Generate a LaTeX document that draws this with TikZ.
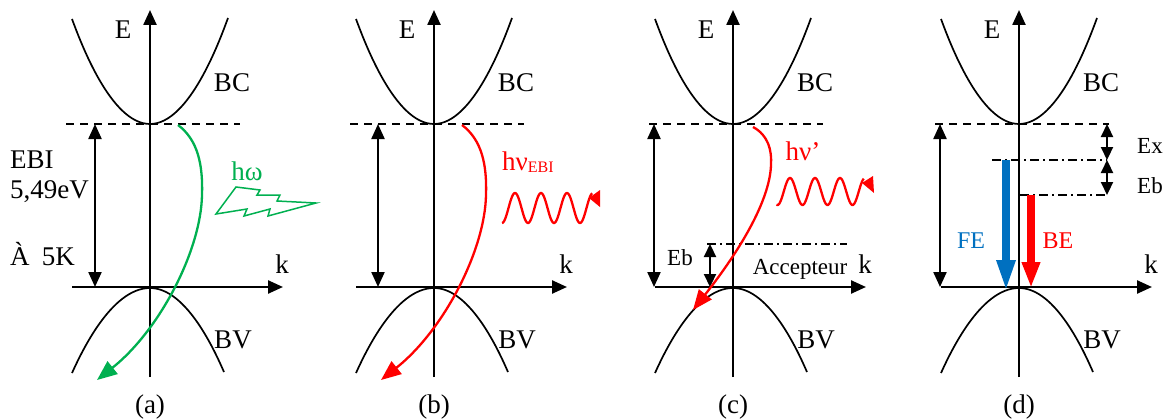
\documentclass[tikz,border=0pt]{standalone}
\usepackage{fontspec}
\setmainfont{Liberation Serif}
\usetikzlibrary{arrows.meta}
\definecolor{pgreen}{RGB}{0,176,80}
\definecolor{pblue}{RGB}{0,112,192}
\definecolor{pred}{RGB}{255,0,0}
\tikzset{
  axis/.style={line width=2.4pt, -{Triangle[length=15pt,width=13pt]}},
  band/.style={line width=1.7pt},
  gap/.style={line width=2.2pt, {Triangle[length=15pt,width=13pt]}-{Triangle[length=15pt,width=13pt]}},
  smallgap/.style={line width=2.2pt, {Triangle[length=13pt,width=12pt]}-{Triangle[length=13pt,width=12pt]}},
  level/.style={line width=1.5pt, dash pattern=on 8pt off 6pt},
  dashdot/.style={line width=1.5pt, dash pattern=on 9pt off 4pt on 2pt off 4pt},
  big/.style={font=\fontsize{27}{30}\selectfont, inner sep=0pt},
  mid/.style={font=\fontsize{24}{27}\selectfont, inner sep=0pt},
  small/.style={font=\fontsize{23}{26}\selectfont, inner sep=0pt},
  emission/.style={line width=2.3pt, -{Triangle[length=20pt,width=16pt]}},
  wave/.style={line width=2.3pt, pred},
  fat/.style={line width=8pt},
}
\newcommand\bandpanel[3]{%
\begin{scope}[shift={(#2,0)}]
  \coordinate (#1-Eb) at (0,377);
  \coordinate (#1-Et) at (0,10);
  \coordinate (#1-kl) at (-78,287);
  \coordinate (#1-kr) at (133,287);
  \coordinate (#1-cbl) at (-78,19);
  \coordinate (#1-cb0) at (0,124);
  \coordinate (#1-cbr) at (78,18);
  \coordinate (#1-vbl) at (-78,373);
  \coordinate (#1-vb0) at (0,288);
  \coordinate (#1-vbr) at (74,372);
  \coordinate (#1-dl) at (-84,124);
  \coordinate (#1-dr) at (90,124);
  \draw[band] (#1-cbl) parabola bend (#1-cb0) (#1-cbr);
  \draw[band] (#1-vbl) parabola bend (#1-vb0) (#1-vbr);
  \draw[level] (#1-dl) -- (#1-dr);
  \draw[axis] (#1-Eb) -- (#1-Et);
  \draw[axis] (#1-kl) -- (#1-kr);
  \node[big,anchor=base] (#1-E) at (-27,39) {E};
  \node[big,anchor=base] (#1-BC) at (82,92) {BC};
  \node[big,anchor=base] (#1-BV) at (83,348) {BV};
  \node[big,anchor=base] (#1-k) at (132,273) {k};
  \node[big,anchor=base] (#1-cap) at (0,413) {(#3)};
\end{scope}}
\begin{document}
\begin{tikzpicture}[x=1pt,y=-1pt]
\useasboundingbox (0,0) rectangle (1170,420);
% ---------- panel (a)
\bandpanel{a}{150}{a}
\begin{scope}[shift={(150,0)}]
  \coordinate (a-g1) at (-55,124);
  \coordinate (a-g2) at (-55,287);
  \draw[gap] (a-g1) -- (a-g2);
  \coordinate (a-s) at (28,125);
  \coordinate (a-m) at (52,195);
  \coordinate (a-e) at (-53,380);
  \draw[emission, pgreen] (a-s) .. controls (48,140) and (53,165) .. (a-m)
        .. controls (51,250) and (10,330) .. (a-e);
  \node[big, pgreen, anchor=base] (a-hw) at (97,180) {hω};
  \draw[pgreen, line width=1.5pt, line join=miter]
    (86,187) -- (110,190) -- (107,195) -- (130,195) -- (127,201) -- (166,203)
    -- (118,216) -- (120,209) -- (94,216) -- (97,209) -- (66,214) -- cycle;
\end{scope}
\node[big, anchor=base west] (a-t1) at (10,168) {EBI};
\node[big, anchor=base west] (a-t2) at (10,198) {5,49eV};
\node[big, anchor=base west] (a-t3) at (10,265) {À\hspace{0.45em}5K};
% ---------- panel (b)
\bandpanel{b}{434}{b}
\begin{scope}[shift={(434,0)}]
  \coordinate (b-g1) at (-56,124);
  \coordinate (b-g2) at (-56,287);
  \draw[gap] (b-g1) -- (b-g2);
  \coordinate (b-s) at (28,125);
  \coordinate (b-m) at (52,195);
  \coordinate (b-e) at (-53,380);
  \draw[emission, pred] (b-s) .. controls (48,140) and (53,165) .. (b-m)
        .. controls (51,250) and (10,330) .. (b-e);
  \node[big, pred, anchor=base west] (b-hv) at (68,170)
    {hν\raisebox{-2pt}{\fontsize{16}{16}\selectfont EBI}};
  \draw[wave] plot[domain=0:3.47, samples=120, smooth] ({68+26*\x},{208+15*cos(360*\x)});
  \fill[pred] (155,198) -- (166,190) -- (166,207) -- cycle;
\end{scope}
% ---------- panel (c)
\bandpanel{c}{733}{c}
\begin{scope}[shift={(733,0)}]
  \coordinate (c-g1) at (-79,124);
  \coordinate (c-g2) at (-79,287);
  \draw[gap] (c-g1) -- (c-g2);
  \coordinate (c-al) at (-26,244);
  \coordinate (c-ar) at (114,244);
  \draw[dashdot] (c-al) -- (c-ar);
  \coordinate (c-h1) at (-23,244);
  \coordinate (c-h2) at (-23,287);
  \draw[smallgap] (c-h1) -- (c-h2);
  \node[small, anchor=base] (c-Eb) at (-53,265) {Eb};
  \node[small, anchor=base] (c-acc) at (67,274) {Accepteur};
  \coordinate (c-s) at (20,127);
  \coordinate (c-m) at (38,165);
  \coordinate (c-e) at (-40,310);
  \draw[emission, pred] (c-s) .. controls (35,135) and (39,150) .. (c-m)
        .. controls (37,195) and (15,240) .. (c-e);
  \node[big, pred, anchor=base] (c-hv) at (70,160) {hν’};
  \draw[wave] plot[domain=-0.04:3.45, samples=120, smooth] ({44.5+25*\x},{191.5+13.5*cos(360*\x)});
  \fill[pred] (129,183) -- (140,176) -- (141,193) -- cycle;
\end{scope}
% ---------- panel (d)
\bandpanel{d}{1019}{d}
\begin{scope}[shift={(1019,0)}]
  \coordinate (d-g1) at (-79,124);
  \coordinate (d-g2) at (-79,287);
  \draw[gap] (d-g1) -- (d-g2);
  \coordinate (d-l1a) at (-27,160);
  \coordinate (d-l1b) at (88,160);
  \coordinate (d-l2a) at (1,195);
  \coordinate (d-l2b) at (88,195);
  \draw[dashdot] (d-l1a) -- (d-l1b);
  \draw[dashdot] (d-l2a) -- (d-l2b);
  \coordinate (d-x1) at (88,124);
  \coordinate (d-x2) at (88,160);
  \coordinate (d-x3) at (88,195);
  \draw[smallgap] (d-x1) -- (d-x2);
  \draw[smallgap] (d-x2) -- (d-x3);
  \node[small, anchor=base] (d-Ex) at (131,153) {Ex};
  \node[small, anchor=base] (d-Eb) at (131,193) {Eb};
  \coordinate (d-f1) at (-13,160);
  \coordinate (d-f2) at (-13,292);
  \coordinate (d-b1) at (12,195);
  \coordinate (d-b2) at (12,288);
  \draw[fat, pblue, -{Triangle[length=32pt,width=17pt]}] (d-f1) -- (d-f2);
  \draw[fat, pred, -{Triangle[length=26pt,width=17pt]}] (d-b1) -- (d-b2);
  \node[mid, pblue, anchor=base] (d-FE) at (-48,248) {FE};
  \node[mid, pred, anchor=base] (d-BE) at (39,248) {BE};
\end{scope}
\end{tikzpicture}
\end{document}
